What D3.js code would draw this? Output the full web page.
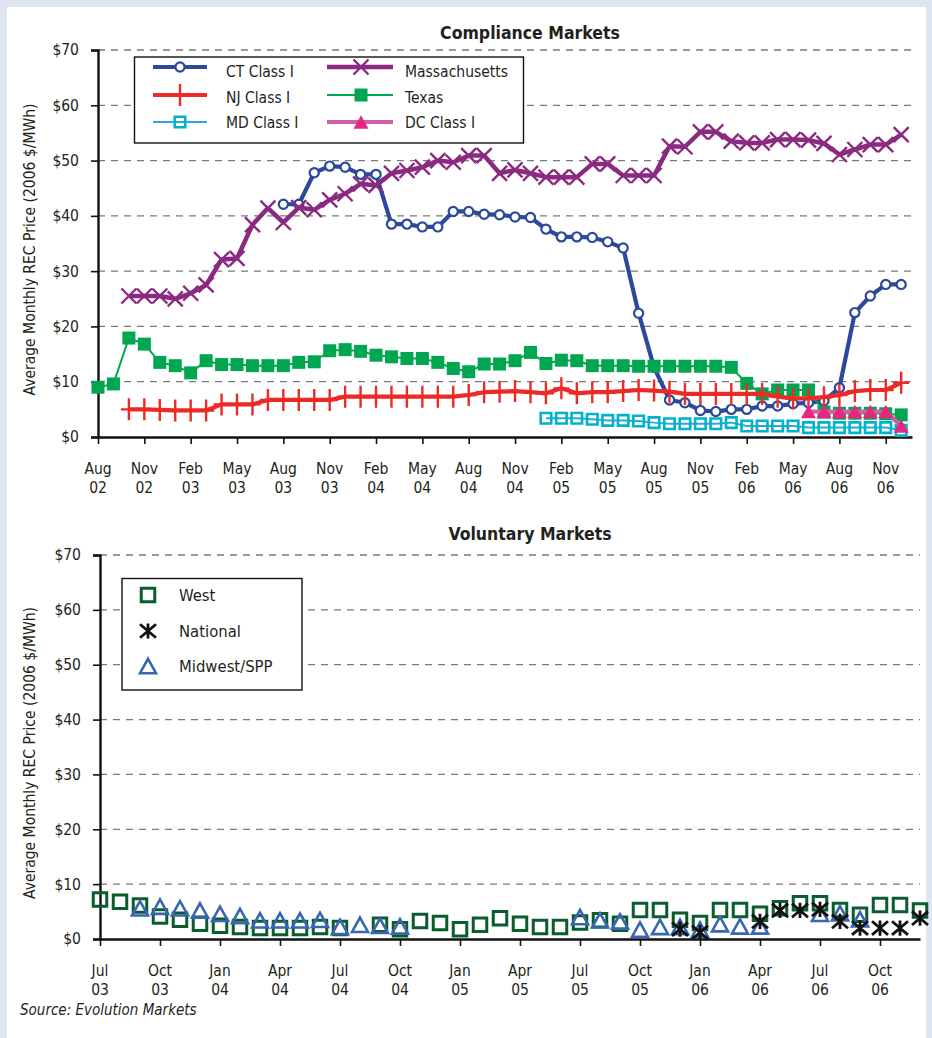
<!DOCTYPE html>
<html>
<head>
<meta charset="utf-8">
<script src="https://cdn.jsdelivr.net/npm/d3@7"></script>
<style>
  html, body { margin: 0; padding: 0; background: #dde6f0; }
  svg { display: block; }
  text { font-family: "Liberation Sans Narrow", "Arial Narrow", "DejaVu Sans Condensed", sans-serif; fill: #231f20; }
</style>
</head>
<body>
<svg id="chart" width="932" height="1038"></svg>
<script>
// ---------------- DATA ----------------
// Compliance markets: monthly, index 0 = Aug 2002 ... 52 = Dec 2006
const complianceTickLabels = ["Aug|02","Nov|02","Feb|03","May|03","Aug|03","Nov|03","Feb|04","May|04","Aug|04","Nov|04","Feb|05","May|05","Aug|05","Nov|05","Feb|06","May|06","Aug|06","Nov|06"];
const priceTicks = [0,10,20,30,40,50,60,70];
const _ = null;
const ctClassI = [_,_,_,_,_,_,_,_,_,_,_,_,
  42.1,42.1,47.8,49.0,48.8,47.5,47.5,38.5,38.5,38.0,38.0,40.8,40.8,40.3,40.2,39.8,39.7,37.6,36.2,36.2,36.1,35.3,34.2,22.4,12.6,
  6.7,6.2,4.8,4.6,5.0,5.0,5.6,5.6,6.0,6.2,6.5,8.9,22.5,25.5,27.6,27.6];
const massachusetts = [_,_,
  25.5,25.5,25.5,25.0,26.0,27.5,32.1,32.3,38.4,41.4,38.8,41.5,41.1,42.9,44.0,45.8,45.5,47.7,48.2,48.8,50.0,49.7,50.9,50.9,
  47.7,48.3,47.7,47.0,47.0,47.0,49.4,49.4,47.3,47.3,47.3,52.6,52.5,55.2,55.2,53.5,53.2,53.2,53.8,53.8,53.7,53.1,51.1,52.0,52.9,52.9,54.7];
const njClassI = [_,_,
  5.0,5.0,4.9,4.8,4.8,4.8,5.9,5.9,5.9,6.7,6.7,6.7,6.7,6.7,7.3,7.3,7.3,7.3,7.3,7.3,7.3,7.3,7.6,8.1,
  8.2,8.3,8.1,7.9,8.8,7.9,8.1,8.1,8.3,8.5,8.4,8.2,7.8,7.8,7.8,7.8,7.8,7.8,7.3,7.0,7.0,7.2,7.6,8.3,8.5,8.5,9.8];
const texas = [9.0,9.6,17.9,16.8,13.5,12.9,11.6,13.8,13.1,13.1,12.9,12.9,12.9,13.5,13.6,15.6,15.8,15.5,14.8,14.5,14.2,14.2,13.5,12.4,11.8,13.2,
  13.2,13.8,15.3,13.3,13.9,13.8,12.9,12.9,12.9,12.8,12.8,12.8,12.8,12.8,12.8,12.6,9.7,7.8,8.5,8.5,8.5,4.5,4.3,4.3,4.3,4.2,4.0];
const mdClassI = [_,_,_,_,_,_,_,_,_,_,_,_,_,_,_,_,_,_,_,_,_,_,_,_,_,_,_,_,_,
  3.4,3.4,3.4,3.2,3.0,3.0,2.9,2.6,2.4,2.4,2.4,2.4,2.6,2.0,2.0,2.0,2.0,1.7,1.7,1.7,1.7,1.7,1.7,1.2];
const dcClassI = [_,_,_,_,_,_,_,_,_,_,_,_,_,_,_,_,_,_,_,_,_,_,_,_,_,_,_,_,_,_,_,_,_,_,_,_,_,_,_,_,_,_,_,_,_,_,
  4.6,4.6,4.6,4.6,4.6,4.6,2.0];

// Voluntary markets: monthly, index 0 = Jul 2003 ... 41 = Dec 2006
const voluntaryTickLabels = ["Jul|03","Oct|03","Jan|04","Apr|04","Jul|04","Oct|04","Jan|05","Apr|05","Jul|05","Oct|05","Jan|06","Apr|06","Jul|06","Oct|06"];
const west = [7.2,6.8,6.1,4.1,3.5,2.8,2.4,2.2,2.0,2.0,2.0,2.2,2.0,_,2.6,1.8,3.3,2.9,1.8,2.6,3.8,2.8,2.2,2.2,3.0,3.4,2.8,
  5.3,5.3,3.5,2.9,5.3,5.3,4.6,5.6,6.5,6.5,5.3,4.4,6.2,6.2,5.2];
const national = [_,_,_,_,_,_,_,_,_,_,_,_,_,_,_,_,_,_,_,_,_,_,_,_,_,_,_,_,_,
  1.8,1.2,_,_,3.2,5.2,5.2,5.4,3.2,2.0,2.0,2.0,3.8];
const midwestSPP = [_,_,5.6,5.9,5.6,5.2,4.6,4.2,3.4,3.4,3.4,3.5,2.2,2.6,2.4,2.3,_,_,_,_,_,_,_,_,
  4.0,3.4,3.2,1.7,2.2,2.2,1.7,2.7,2.3,2.3,_,_,4.6,4.7,3.6];

// ---------------- DRAW ----------------
const svg = d3.select("#chart");
svg.append("rect").attr("x",7).attr("y",7).attr("width",919).attr("height",1031).attr("fill","#ffffff");

const FONT_TICK = 15.5;
const GRID = "#7a7a7a";

function crossPath(s){ return `M${-s},${-s}L${s},${s}M${-s},${s}L${s},${-s}`; }
function plusPath(h,v){ return `M${-h},0L${h},0M0,${-v}L0,${v}`; }
function asteriskPath(s){ return `M${-s},${-s*0.85}L${s},${s*0.85}M${-s},${s*0.85}L${s},${-s*0.85}M0,${-s*0.95}L0,${s*0.95}`; }
function triPath(w){ const h = w*0.9; return `M0,${-h/2}L${w/2},${h/2}L${-w/2},${h/2}Z`; }
function sqPath(s){ return `M${-s/2},${-s/2}h${s}v${s}h${-s}Z`; }

function drawFrame(g, x, y, xMax, tickLabels, tickStep, title, titleY){
  g.selectAll(".grid").data(priceTicks.filter(d=>d>0)).enter().append("line")
    .attr("x1", x(0)).attr("x2", x(xMax)).attr("y1", d=>y(d)).attr("y2", d=>y(d))
    .attr("stroke", GRID).attr("stroke-width", 1.3).attr("stroke-dasharray","7,6");
  const ya = g.append("g").attr("transform",`translate(${x(0)},0)`)
    .call(d3.axisLeft(y).tickValues(priceTicks).tickFormat(d=>"$"+d).tickSize(7).tickPadding(12));
  ya.select(".domain").attr("stroke","#111").attr("stroke-width",2.4);
  ya.selectAll(".tick line").attr("stroke","#111").attr("stroke-width",1.6);
  ya.selectAll(".tick text").style("font-size",FONT_TICK+"px").attr("fill","#231f20")
    .style("font-family",'"Liberation Sans Narrow","Arial Narrow","DejaVu Sans Condensed",sans-serif');
  const tickVals = tickLabels.map((d,i)=>i*tickStep);
  const xa = g.append("g").attr("transform",`translate(0,${y(0)})`)
    .call(d3.axisBottom(x).tickValues(tickVals).tickFormat("").tickSize(7).tickSizeOuter(0));
  xa.select(".domain").attr("stroke","#111").attr("stroke-width",2.4);
  xa.selectAll(".tick line").attr("stroke","#111").attr("stroke-width",1.6);
  tickLabels.forEach((lab,i)=>{
    const parts = lab.split("|");
    const t = g.append("text").attr("x", x(i*tickStep)).attr("text-anchor","middle").style("font-size",FONT_TICK+"px");
    t.append("tspan").attr("x", x(i*tickStep)).attr("y", y(0)+37).text(parts[0]);
    t.append("tspan").attr("x", x(i*tickStep)).attr("y", y(0)+56).text(parts[1]);
  });
  const cy = (y(0)+y(70))/2 + 6;
  g.append("text").attr("transform",`translate(35,${cy}) rotate(-90)`).attr("text-anchor","middle")
    .style("font-size","15.5px").text("Average Monthly REC Price (2006 $/MWh)");
  g.append("text").attr("x",530).attr("y",titleY).attr("text-anchor","middle")
    .style("font-size","17.5px").style("font-weight","bold").text(title);
}

// ===== Compliance chart =====
const x1 = d3.scaleLinear().domain([0, 52.7]).range([98, 912]);
const y1 = d3.scaleLinear().domain([0, 70]).range([437, 50]);
const g1 = svg.append("g");
drawFrame(g1, x1, y1, 52.7, complianceTickLabels, 3, "Compliance Markets", 39);

const line1 = d3.line().defined(d=>d!==null).x((d,i)=>x1(i)).y(d=>y1(d));
function pts(arr){ return arr.map((v,i)=>({i,v})).filter(d=>d.v!==null); }

const series1 = [
  {name:"CT Class I", data:ctClassI, color:"#2c4a9c", lw:4.2, draw:(sel,c)=>sel.append("circle").attr("r",4.6).attr("fill","#fff").attr("stroke",c).attr("stroke-width",2.2)},
  {name:"Massachusetts", data:massachusetts, color:"#8b2a80", lw:4.5, draw:(sel,c)=>sel.append("path").attr("d",crossPath(7.5)).attr("stroke",c).attr("stroke-width",2.4).attr("fill","none")},
  {name:"Texas", data:texas, color:"#00a650", lw:2, draw:(sel,c)=>sel.append("path").attr("d",sqPath(13)).attr("fill",c)},
  {name:"NJ Class I", data:njClassI, color:"#ed2a27", lw:4.2, draw:(sel,c)=>sel.append("path").attr("d",plusPath(8,11)).attr("stroke",c).attr("stroke-width",2.4).attr("fill","none")},
  {name:"MD Class I", data:mdClassI, color:"#00b2cc", lc:"#2aa8dc", lw:2, draw:(sel,c)=>sel.append("path").attr("d",sqPath(10.5)).attr("stroke",c).attr("stroke-width",2.6).attr("fill","none")},
  {name:"DC Class I", data:dcClassI, color:"#e7267f", lc:"#d45ea6", lw:4.2, draw:(sel,c)=>sel.append("path").attr("d",triPath(15)).attr("fill",c)}
];
series1.forEach(s=>{
  g1.append("path").datum(s.data).attr("d",line1).attr("fill","none").attr("stroke",s.lc||s.color)
    .attr("stroke-width",s.lw).attr("stroke-linejoin","round");
  const m = g1.selectAll(null).data(pts(s.data)).enter().append("g")
    .attr("transform",d=>`translate(${x1(d.i)},${y1(d.v)})`);
  s.draw(m, s.color);
});

// legend (compliance)
const lg1 = g1.append("g");
lg1.append("rect").attr("x",134.5).attr("y",57).attr("width",389).attr("height",86).attr("fill","#fff").attr("stroke","#111").attr("stroke-width",1.4);
const legItems1 = [
  {s:series1[0], col:0, row:0},{s:series1[3], col:0, row:1},{s:series1[4], col:0, row:2},
  {s:series1[1], col:1, row:0},{s:series1[2], col:1, row:1},{s:series1[5], col:1, row:2}
];
const legCols = [{x0:153,x1:207,xm:180,xt:226},{x0:327,x1:393,xm:361,xt:405}];
const legRowsY = [67,95,122];
const legTextY = [77,103,128];
legItems1.forEach(it=>{
  const c = legCols[it.col], yy = legRowsY[it.row];
  lg1.append("line").attr("x1",c.x0).attr("x2",c.x1).attr("y1",yy).attr("y2",yy)
    .attr("stroke",it.s.lc||it.s.color).attr("stroke-width",it.s.lw);
  const m = lg1.append("g").attr("transform",`translate(${c.xm},${yy})`);
  it.s.draw(m, it.s.color);
  lg1.append("text").attr("x",c.xt).attr("y",legTextY[it.row]).style("font-size","15.5px").text(it.s.name);
});

// ===== Voluntary chart =====
const x2 = d3.scaleLinear().domain([0, 41]).range([100, 920]);
const y2 = d3.scaleLinear().domain([0, 70]).range([939, 555]);
const g2 = svg.append("g");
drawFrame(g2, x2, y2, 41, voluntaryTickLabels, 3, "Voluntary Markets", 540);

const series2 = [
  {name:"West", data:west, color:"#0b5d2e", draw:(sel,c)=>sel.append("path").attr("d",sqPath(13.5)).attr("stroke",c).attr("stroke-width",3).attr("fill","none")},
  {name:"Midwest/SPP", data:midwestSPP, color:"#3866b0", draw:(sel,c)=>sel.append("path").attr("d",triPath(16)).attr("stroke",c).attr("stroke-width",2.6).attr("fill","none").attr("stroke-linejoin","miter")},
  {name:"National", data:national, color:"#111111", draw:(sel,c)=>sel.append("path").attr("d",asteriskPath(8)).attr("stroke",c).attr("stroke-width",2.8).attr("fill","none")}
];
series2.forEach(s=>{
  const m = g2.selectAll(null).data(pts(s.data)).enter().append("g")
    .attr("transform",d=>`translate(${x2(d.i)},${y2(d.v)})`);
  s.draw(m, s.color);
});
const lg2 = g2.append("g");
lg2.append("rect").attr("x",122).attr("y",578.5).attr("width",180).attr("height",111.5).attr("fill","#fff").attr("stroke","#111").attr("stroke-width",1.4);
const legOrder2 = [series2[0], series2[2], series2[1]];
const legY2 = [595, 631, 666];
legOrder2.forEach((s,i)=>{
  const m = lg2.append("g").attr("transform",`translate(148,${legY2[i]})`);
  s.draw(m, s.color);
  lg2.append("text").attr("x",179).attr("y",legY2[i]+6).style("font-size","16.5px").text(s.name);
});

svg.append("text").attr("x",20).attr("y",1015).style("font-size","15px").style("font-style","italic").text("Source: Evolution Markets");
</script>
</body>
</html>
